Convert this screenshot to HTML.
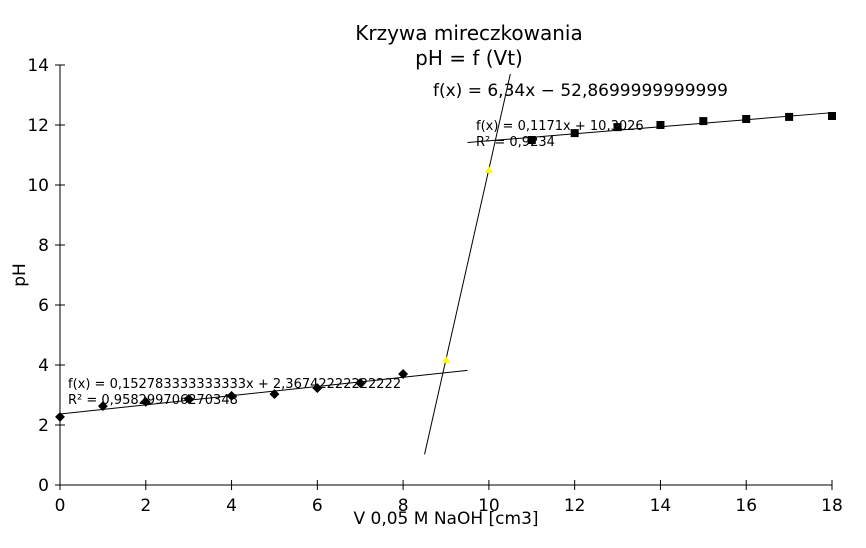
<!DOCTYPE html>
<html><head><meta charset="utf-8"><style>
body{margin:0;background:#fff;}
svg{display:block;font-family:"DejaVu Sans","Liberation Sans",sans-serif;}
</style></head><body>
<svg id="chart" width="866" height="548">
<text x="469" y="40" text-anchor="middle" font-size="20">Krzywa mireczkowania</text>
<text x="469" y="65" text-anchor="middle" font-size="20">pH = f (Vt)</text>
<text x="446" y="524" text-anchor="middle" font-size="17">V 0,05 M NaOH [cm3]</text>
<text transform="translate(25,275) rotate(-90)" text-anchor="middle" font-size="17">pH</text>
<g id="axes"></g><g id="marks"></g>
</svg>
<script>
const xTicks=[0,2,4,6,8,10,12,14,16,18];
const yTicks=[0,2,4,6,8,10,12,14];
const xA=[0,1,2,3,4,5,6,7,8];
const yA=[2.27,2.63,2.77,2.87,2.97,3.03,3.23,3.4,3.7];
const xB=[9,10];
const yB=[4.17,10.5];
const xC=[11,12,13,14,15,16,17,18];
const yC=[11.5,11.73,11.93,12.0,12.13,12.2,12.27,12.3];
const fit1=[0.152783333333333,2.36742222222222];
const fit2=[0.1171,10.3026];
const fit3=[6.34,-52.8699999999999];
const NS="http://www.w3.org/2000/svg";
const X=v=>60+v*(772/18), Y=v=>485-v*30;
const ax=document.getElementById('axes'), mk=document.getElementById('marks');
function el(t,a,p){const e=document.createElementNS(NS,t);for(const k in a)e.setAttribute(k,a[k]);p.appendChild(e);return e;}
let l=el('line',{x1:60,y1:485,x2:832,y2:485,stroke:'#000'},ax);


l=el('line',{x1:60,y1:65,x2:60,y2:485,stroke:'#000'},ax);


xTicks.forEach(v=>{el('line',{x1:X(v),x2:X(v),y1:480,y2:490,stroke:'#000'},ax);
const t=el('text',{x:X(v),y:511,'text-anchor':'middle','font-size':17},ax);t.textContent=v;

});
yTicks.forEach(v=>{el('line',{x1:55,x2:65,y1:Y(v),y2:Y(v),stroke:'#000'},ax);
const t=el('text',{x:49,y:Y(v)+6,'text-anchor':'end','font-size':17},ax);t.textContent=v;

});
function line(f,x0,x1,name){const e=el('line',{x1:X(x0),y1:Y(f[0]*x0+f[1]),x2:X(x1),y2:Y(f[0]*x1+f[1]),stroke:'#000','stroke-width':1},mk);

}
line(fit1,0,9.5,'trendline-acid');
line(fit2,9.5,18,'trendline-base');
line(fit3,8.5,10.5,'trendline-equivalence');
xA.forEach((v,i)=>{const e=el('rect',{x:-3.5,y:-3.5,width:7,height:7,fill:'#000',transform:`translate(${X(v)},${Y(yA[i])}) rotate(45)`},mk);

});
xB.forEach((v,i)=>{const cx=X(v),cy=Y(yB[i]);const e=el('polygon',{points:`${cx},${cy-4} ${cx+4},${cy+3} ${cx-4},${cy+3}`,fill:'#ffff00'},mk);

});
xC.forEach((v,i)=>{const e=el('rect',{x:X(v)-4,y:Y(yC[i])-4,width:8,height:8,fill:'#000'},mk);

});
function txt(x,y,s,fs,name){const t=el('text',{x:x,y:y,'font-size':fs},mk);t.textContent=s;

}
txt(68,388,'f(x) = 0,152783333333333x + 2,36742222222222',13,'equation-acid');
txt(68,404,'R² = 0,958299706270348',13,'r2-acid');
txt(476,130,'f(x) = 0,1171x + 10,3026',13,'equation-base');
txt(476,146,'R² = 0,9234',13,'r2-base');
txt(433,96,'f(x) = 6,34x − 52,8699999999999',17,'equation-equivalence');
</script>
</body></html>
